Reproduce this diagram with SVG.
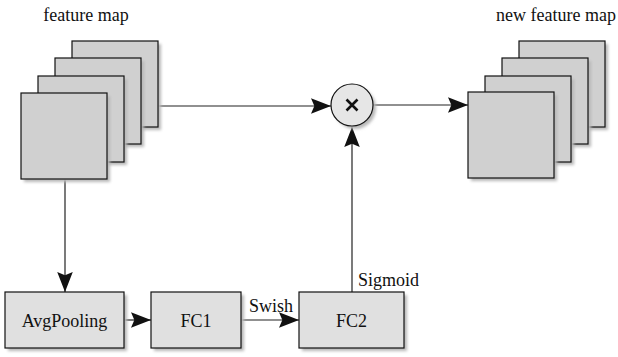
<svg xmlns="http://www.w3.org/2000/svg" width="618" height="357" viewBox="0 0 618 357">
<style>
.lbl{font-family:'Liberation Serif','Times New Roman',Times,serif;font-size:18px;fill:#111;}
.sq{fill:#d0d0d0;stroke:#111;stroke-width:1.2;}
.box{fill:#e0e0e0;stroke:#111;stroke-width:1.2;}
.sh{fill:#b8b8b8;filter:url(#blur);}
.ln{stroke:#222;stroke-width:1.2;fill:none;marker-end:url(#ah);}
</style>
<defs>
<filter id="blur" x="-10%" y="-10%" width="130%" height="130%"><feGaussianBlur stdDeviation="1.5"/></filter>
<marker id="ah" markerUnits="userSpaceOnUse" markerWidth="20" markerHeight="16" viewBox="0 0 18 14" refX="18" refY="7" orient="auto">
<path d="M0,0 L18,7 L0,14 L3,7 Z" fill="#111"/>
</marker>
<g id="square">
<rect class="sh" x="3" y="3" width="86" height="86"/>
<rect class="sq" x="0" y="0" width="86" height="86"/>
</g>
</defs>

<g id="connectors">
<line class="ln" x1="158" y1="106" x2="331" y2="106"/>
<line class="ln" x1="373" y1="105" x2="468" y2="105"/>
<line class="ln" x1="65" y1="179" x2="65" y2="292"/>
<line class="ln" x1="124" y1="320" x2="151" y2="320"/>
<line class="ln" x1="241" y1="320" x2="299" y2="320"/>
<line class="ln" x1="352" y1="292" x2="352" y2="127"/>
</g>

<g id="feature-map">
<text class="lbl" font-family="Liberation Serif, serif" x="86" y="21" text-anchor="middle">feature map</text>
<use href="#square" x="72" y="41"/>
<use href="#square" x="55" y="58"/>
<use href="#square" x="38" y="76"/>
<use href="#square" x="21" y="93"/>
</g>

<g id="new-feature-map">
<text class="lbl" font-family="Liberation Serif, serif" x="556" y="21" text-anchor="middle">new feature map</text>
<use href="#square" x="519" y="41"/>
<use href="#square" x="502" y="58"/>
<use href="#square" x="485" y="76"/>
<use href="#square" x="468" y="92"/>
</g>

<g id="multiply">
<circle cx="355" cy="108" r="21" class="sh"/>
<circle cx="352" cy="105" r="21" fill="#e6e6e6" stroke="#111" stroke-width="1.2"/>
<path d="M346.5,99.5 L357.5,110.5 M357.5,99.5 L346.5,110.5" stroke="#111" stroke-width="2.6"/>
</g>

<g id="avgpooling">
<rect class="sh" x="8" y="295" width="119" height="56"/>
<rect class="box" x="5" y="292" width="119" height="56"/>
<text class="lbl" font-family="Liberation Serif, serif" x="64.5" y="327" text-anchor="middle">AvgPooling</text>
</g>

<g id="fc1">
<rect class="sh" x="154" y="295" width="90" height="56"/>
<rect class="box" x="151" y="292" width="90" height="56"/>
<text class="lbl" font-family="Liberation Serif, serif" x="196" y="327" text-anchor="middle">FC1</text>
</g>

<g id="fc2">
<rect class="sh" x="302" y="295" width="105" height="56"/>
<rect class="box" x="299" y="292" width="105" height="56"/>
<text class="lbl" font-family="Liberation Serif, serif" x="351.5" y="327" text-anchor="middle">FC2</text>
</g>

<g id="labels">
<text class="lbl" font-family="Liberation Serif, serif" x="271" y="312" text-anchor="middle">Swish</text>
<text class="lbl" font-family="Liberation Serif, serif" x="358" y="286">Sigmoid</text>
</g>
</svg>
